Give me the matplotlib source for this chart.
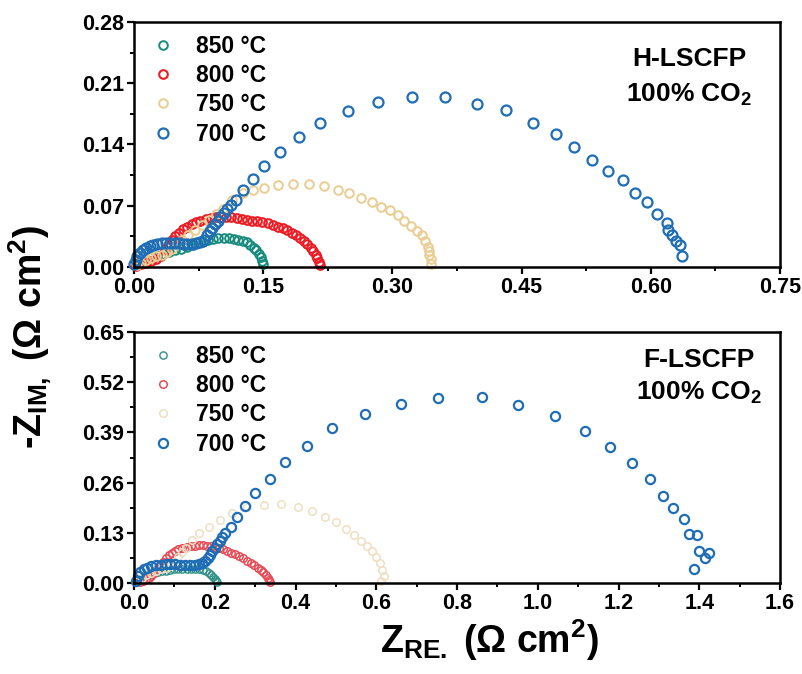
import matplotlib
matplotlib.use("Agg")
import matplotlib.pyplot as plt
from matplotlib.ticker import MultipleLocator, FormatStrFormatter

plt.rcParams["font.family"] = ["Liberation Sans", "DejaVu Sans"]
plt.rcParams["font.weight"] = "bold"
plt.rcParams["mathtext.fontset"] = "custom"
plt.rcParams["mathtext.rm"] = "Liberation Sans:bold"
plt.rcParams["mathtext.it"] = "Liberation Sans:bold"
plt.rcParams["mathtext.bf"] = "Liberation Sans:bold"
plt.rcParams["mathtext.default"] = "rm"

LABELS = ["850 °C", "800 °C", "750 °C", "700 °C"]

# H-LSCFP, 100% CO2 (Nyquist, Ohm cm2)
h850_re = [0.003, 0.008, 0.014, 0.020, 0.027, 0.034, 0.041, 0.048, 0.055, 0.062, 0.068, 0.074, 0.080, 0.086,
           0.092, 0.098, 0.104, 0.110, 0.116, 0.121, 0.126, 0.131, 0.135, 0.139, 0.142, 0.145, 0.147, 0.149, 0.150]
h850_im = [0.002, 0.005, 0.008, 0.011, 0.013, 0.015, 0.017, 0.019, 0.021, 0.023, 0.025, 0.027, 0.029, 0.031,
           0.032, 0.033, 0.033, 0.033, 0.032, 0.031, 0.030, 0.028, 0.025, 0.022, 0.019, 0.015, 0.011, 0.007, 0.003]
h800_re = [0.002, 0.008, 0.014, 0.020, 0.026, 0.031, 0.036, 0.040, 0.044, 0.048, 0.052, 0.057, 0.062, 0.067,
           0.072, 0.077, 0.083, 0.089, 0.095, 0.101, 0.107, 0.113, 0.119, 0.125, 0.131, 0.137, 0.143, 0.149,
           0.155, 0.161, 0.167, 0.173, 0.178, 0.183, 0.188, 0.193, 0.197, 0.201, 0.205, 0.208, 0.211, 0.213,
           0.215, 0.216]
h800_im = [0.001, 0.003, 0.005, 0.007, 0.009, 0.013, 0.019, 0.025, 0.031, 0.035, 0.039, 0.043, 0.046, 0.049,
           0.051, 0.053, 0.055, 0.056, 0.057, 0.057, 0.057, 0.057, 0.056, 0.055, 0.054, 0.053, 0.052, 0.051,
           0.050, 0.048, 0.046, 0.044, 0.042, 0.039, 0.036, 0.033, 0.030, 0.026, 0.022, 0.018, 0.014, 0.010,
           0.006, 0.002]
h750_re = [0.003, 0.008, 0.014, 0.020, 0.026, 0.032, 0.038, 0.044, 0.050, 0.056, 0.063, 0.071, 0.079, 0.087,
           0.095, 0.103, 0.114, 0.126, 0.138, 0.151, 0.167, 0.184, 0.203, 0.221, 0.237, 0.250, 0.263, 0.276,
           0.287, 0.297, 0.307, 0.314, 0.322, 0.329, 0.334, 0.338, 0.341, 0.342, 0.343, 0.345, 0.345]
h750_im = [0.002, 0.005, 0.008, 0.010, 0.012, 0.014, 0.017, 0.021, 0.026, 0.031, 0.036, 0.042, 0.048, 0.054,
           0.060, 0.066, 0.076, 0.084, 0.088, 0.090, 0.094, 0.095, 0.095, 0.092, 0.088, 0.084, 0.079, 0.074,
           0.069, 0.065, 0.059, 0.053, 0.047, 0.041, 0.036, 0.030, 0.023, 0.018, 0.014, 0.009, 0.003]
h700_re = [0.000, 0.002, 0.004, 0.007, 0.010, 0.014, 0.018, 0.022, 0.027, 0.032, 0.037, 0.042, 0.047, 0.052,
           0.057, 0.062, 0.067, 0.072, 0.077, 0.081, 0.085, 0.088, 0.091, 0.094, 0.097, 0.100, 0.104, 0.108,
           0.113, 0.118, 0.127, 0.138, 0.151, 0.170, 0.192, 0.216, 0.248, 0.283, 0.323, 0.361, 0.398, 0.432,
           0.463, 0.490, 0.511, 0.532, 0.550, 0.568, 0.582, 0.595, 0.607, 0.619, 0.620, 0.625, 0.629, 0.634, 0.636]
h700_im = [0.003, 0.008, 0.012, 0.016, 0.019, 0.022, 0.024, 0.025, 0.026, 0.027, 0.027, 0.027, 0.027, 0.027,
           0.026, 0.026, 0.026, 0.027, 0.028, 0.031, 0.036, 0.041, 0.045, 0.049, 0.053, 0.057, 0.062, 0.066,
           0.071, 0.077, 0.088, 0.100, 0.115, 0.131, 0.148, 0.164, 0.178, 0.189, 0.194, 0.194, 0.186, 0.179,
           0.165, 0.152, 0.137, 0.122, 0.110, 0.099, 0.085, 0.074, 0.061, 0.050, 0.042, 0.036, 0.030, 0.025, 0.012]

# F-LSCFP, 100% CO2
f850_re = [0.005, 0.012, 0.020, 0.030, 0.040, 0.050, 0.060, 0.070, 0.080, 0.090, 0.100, 0.110, 0.120, 0.130,
           0.140, 0.150, 0.160, 0.170, 0.178, 0.185, 0.191, 0.196, 0.200, 0.203, 0.205]
f850_im = [0.003, 0.008, 0.013, 0.018, 0.022, 0.025, 0.028, 0.030, 0.032, 0.034, 0.035, 0.036, 0.037, 0.037,
           0.037, 0.036, 0.035, 0.033, 0.030, 0.026, 0.021, 0.016, 0.011, 0.006, 0.002]
f800_re = [0.015, 0.022, 0.029, 0.036, 0.043, 0.050, 0.057, 0.064, 0.071, 0.078, 0.086, 0.094, 0.102, 0.110,
           0.120, 0.130, 0.140, 0.150, 0.160, 0.170, 0.180, 0.190, 0.200, 0.210, 0.220, 0.230, 0.240, 0.250,
           0.260, 0.270, 0.280, 0.290, 0.298, 0.306, 0.314, 0.320, 0.326, 0.331, 0.335, 0.338]
f800_im = [0.002, 0.006, 0.010, 0.014, 0.019, 0.026, 0.035, 0.045, 0.055, 0.064, 0.072, 0.079, 0.084, 0.088,
           0.091, 0.094, 0.096, 0.097, 0.098, 0.098, 0.097, 0.096, 0.094, 0.091, 0.088, 0.084, 0.079, 0.074,
           0.069, 0.064, 0.058, 0.052, 0.046, 0.040, 0.034, 0.028, 0.021, 0.014, 0.008, 0.002]
f750_re = [0.010, 0.020, 0.030, 0.042, 0.054, 0.066, 0.078, 0.090, 0.100, 0.110, 0.120, 0.128, 0.144, 0.161,
           0.186, 0.212, 0.243, 0.280, 0.322, 0.363, 0.406, 0.441, 0.474, 0.501, 0.526, 0.545, 0.563, 0.578,
           0.590, 0.600, 0.608, 0.613, 0.619, 0.611]
f750_im = [0.005, 0.012, 0.020, 0.026, 0.031, 0.035, 0.039, 0.045, 0.055, 0.068, 0.080, 0.090, 0.111, 0.129,
           0.144, 0.163, 0.182, 0.196, 0.202, 0.205, 0.198, 0.187, 0.170, 0.159, 0.139, 0.124, 0.110, 0.096,
           0.084, 0.068, 0.051, 0.034, 0.018, 0.005]
f700_re = [0.005, 0.010, 0.016, 0.024, 0.033, 0.043, 0.054, 0.066, 0.078, 0.090, 0.102, 0.114, 0.126, 0.138,
           0.150, 0.160, 0.168, 0.175, 0.182, 0.188, 0.194, 0.200, 0.206, 0.212, 0.218, 0.225, 0.239, 0.256,
           0.276, 0.300, 0.338, 0.374, 0.429, 0.491, 0.572, 0.660, 0.753, 0.861, 0.950, 1.042, 1.118, 1.179,
           1.234, 1.279, 1.309, 1.334, 1.361, 1.374, 1.394, 1.399, 1.423, 1.413, 1.388]
f700_im = [0.006, 0.018, 0.028, 0.035, 0.040, 0.044, 0.046, 0.047, 0.048, 0.048, 0.048, 0.047, 0.047, 0.047,
           0.047, 0.048, 0.052, 0.058, 0.065, 0.073, 0.082, 0.091, 0.100, 0.110, 0.120, 0.130, 0.146, 0.170,
           0.199, 0.234, 0.270, 0.313, 0.356, 0.402, 0.438, 0.464, 0.480, 0.481, 0.460, 0.433, 0.394, 0.351,
           0.310, 0.269, 0.226, 0.195, 0.165, 0.127, 0.124, 0.084, 0.079, 0.066, 0.036]

TOP_COLORS = ["#168a7c", "#ec1c24", "#e9cd92", "#1f6db4"]
BOT_COLORS = ["#2e8f86", "#e84a55", "#efdfc2", "#1f6db4"]


def style_axes(ax, xmax, xstep, ymax, ystep, xfmt, yfmt):
    ax.set_xlim(0, xmax)
    ax.set_ylim(0, ymax)
    ax.xaxis.set_major_locator(MultipleLocator(xstep))
    ax.xaxis.set_minor_locator(MultipleLocator(xstep / 2))
    ax.yaxis.set_major_locator(MultipleLocator(ystep))
    ax.yaxis.set_minor_locator(MultipleLocator(ystep / 2))
    ax.xaxis.set_major_formatter(FormatStrFormatter(xfmt))
    ax.yaxis.set_major_formatter(FormatStrFormatter(yfmt))
    for s in ax.spines.values():
        s.set_linewidth(1.8)
    ax.tick_params(which="major", direction="out", length=5, width=1.6, labelsize=15.5, pad=2)
    ax.tick_params(which="minor", direction="out", length=3, width=1.4)
    for lab in ax.get_xticklabels() + ax.get_yticklabels():
        lab.set_fontweight("bold")


fig = plt.figure(figsize=(8.03, 6.74), dpi=100)
ax1 = fig.add_axes([0.1669, 0.6039, 0.8045, 0.3635])
ax2 = fig.add_axes([0.1669, 0.1350, 0.8045, 0.3724])

top = [(h850_re, h850_im), (h800_re, h800_im), (h750_re, h750_im), (h700_re, h700_im)]
bot = [(f850_re, f850_im), (f800_re, f800_im), (f750_re, f750_im), (f700_re, f700_im)]
top_ms = [6.2, 6.2, 6.2, 7.2]
top_mew = [1.4, 1.5, 1.4, 1.6]
bot_ms = [5.2, 5.4, 5.4, 6.6]
bot_mew = [1.0, 1.1, 1.1, 1.6]

for (x, y), c, lab, ms, mew in zip(top, TOP_COLORS, LABELS, top_ms, top_mew):
    ax1.plot(x, y, "o", mfc="none", mec=c, ms=ms, mew=mew, label=lab, clip_on=False)
for (x, y), c, lab, ms, mew in zip(bot, BOT_COLORS, LABELS, bot_ms, bot_mew):
    ax2.plot(x, y, "o", mfc="none", mec=c, ms=ms, mew=mew, label=lab, clip_on=False)

style_axes(ax1, 0.75, 0.15, 0.28, 0.07, "%.2f", "%.2f")
style_axes(ax2, 1.6, 0.2, 0.65, 0.13, "%.1f", "%.2f")

for ax in (ax1, ax2):
    leg = ax.legend(loc="upper left", frameon=False, fontsize=16.5, handlelength=1.4,
                    handletextpad=0.75, labelspacing=0.28, borderaxespad=0.25, borderpad=0.3)
    for t in leg.get_texts():
        t.set_fontweight("bold")

ax1.text(0.859, 0.849, "H-LSCFP", transform=ax1.transAxes, ha="center", va="center",
         fontsize=19, fontweight="bold")
ax1.text(0.859, 0.702, "100% CO$_2$", transform=ax1.transAxes, ha="center", va="center",
         fontsize=19, fontweight="bold")
ax2.text(0.875, 0.888, "F-LSCFP", transform=ax2.transAxes, ha="center", va="center",
         fontsize=19, fontweight="bold")
ax2.text(0.875, 0.757, "100% CO$_2$", transform=ax2.transAxes, ha="center", va="center",
         fontsize=19, fontweight="bold")

fig.text(0.038, 0.5, "-Z$_{IM,}$ (Ω cm$^2$)", rotation=90, ha="center", va="center",
         fontsize=27, fontweight="bold")
fig.text(0.61, 0.05, "Z$_{RE.}$ (Ω cm$^2$)", ha="center", va="center",
         fontsize=27, fontweight="bold")

fig.savefig("out.png", dpi=100)
